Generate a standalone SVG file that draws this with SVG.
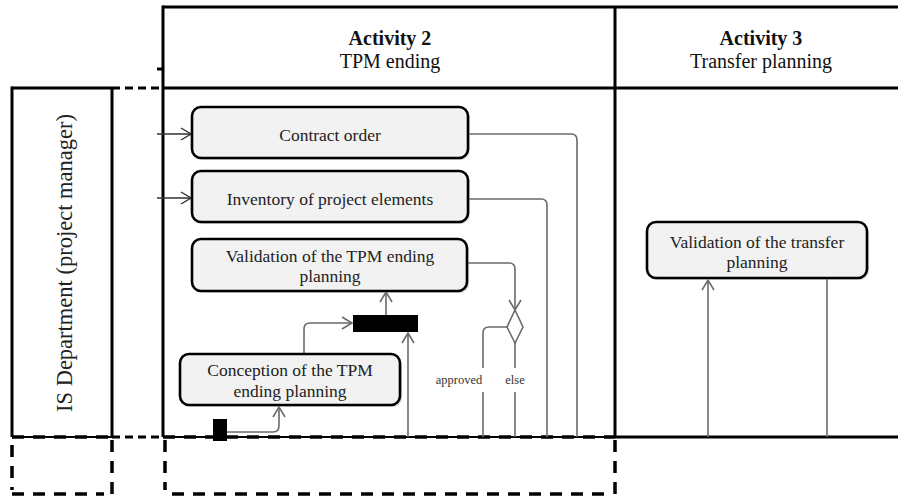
<svg xmlns="http://www.w3.org/2000/svg" width="898" height="497" viewBox="0 0 898 497">
<style>
.lane{stroke:#000;stroke-width:3;fill:none}
.dash{stroke:#000;stroke-width:3.5;fill:none;stroke-dasharray:12 9}
.dashs{stroke:#000;stroke-width:3;fill:none;stroke-dasharray:8 5}
.thin{stroke:#000;stroke-width:1.8;fill:none}
.box{fill:#f2f2f2;stroke:#000;stroke-width:2.6}
.shadow{fill:#bbb;opacity:.5}
.bar{fill:#000}
.c{stroke:#6a6a6a;stroke-width:1.6;fill:none}
.cd{stroke:#333;stroke-width:1.4;fill:none}
.t{font-family:"Liberation Serif","Times New Roman",serif;font-size:17.5px;fill:#222;text-anchor:middle}
.h{font-family:"Liberation Serif","Times New Roman",serif;font-size:20px;fill:#111;text-anchor:middle}
.hb{font-weight:bold}
.s{font-family:"Liberation Serif","Times New Roman",serif;font-size:12.5px;fill:#333;text-anchor:middle}
.v{font-family:"Liberation Serif","Times New Roman",serif;font-size:22.5px;fill:#222;text-anchor:middle}
</style>
<defs>
<marker id="arr" markerUnits="userSpaceOnUse" markerWidth="16" markerHeight="16" viewBox="-12 -8 14 16" refX="0" refY="0" orient="auto">
<path d="M-10,-6 L0,0 L-10,6" fill="none" stroke="#6a6a6a" stroke-width="1.6"/>
</marker>
<marker id="arrd" markerUnits="userSpaceOnUse" markerWidth="16" markerHeight="16" viewBox="-12 -8 14 16" refX="0" refY="0" orient="auto">
<path d="M-10,-6 L0,0 L-10,6" fill="none" stroke="#333" stroke-width="1.4"/>
</marker>
</defs>
<rect width="898" height="497" fill="#fff"/>

<g id="swimlanes">
<line class="lane" x1="163" y1="7" x2="898" y2="7"/>
<line class="lane" x1="163" y1="88" x2="898" y2="88"/>
<line class="lane" x1="163" y1="5.5" x2="163" y2="437"/>
<line class="lane" x1="615" y1="7" x2="615" y2="437"/>
<line class="lane" x1="157" y1="69" x2="163" y2="69"/>
<line class="lane" x1="12" y1="88" x2="112" y2="88"/>
<line class="dashs" x1="112" y1="88" x2="163" y2="88"/>
<line class="lane" x1="12" y1="86.5" x2="12" y2="437"/>
<line class="lane" x1="112" y1="88" x2="112" y2="437"/>
<line class="thin" x1="12" y1="437" x2="112" y2="437"/>
<line class="dash" x1="12" y1="437" x2="112" y2="437"/>
<line class="dashs" x1="112" y1="437" x2="163" y2="437"/>
<line class="thin" x1="163" y1="437" x2="615" y2="437"/>
<line class="dash" x1="163" y1="437" x2="615" y2="437"/>
<line class="lane" x1="615" y1="437" x2="898" y2="437"/>
<line class="dash" x1="12" y1="445" x2="12" y2="490"/>
<line class="dash" x1="112" y1="440" x2="112" y2="495"/>
<line class="dash" x1="165" y1="440" x2="165" y2="490"/>
<line class="dash" x1="615" y1="440" x2="615" y2="495"/>
<line class="dash" x1="12" y1="494" x2="104" y2="494"/>
<line class="dash" x1="172" y1="494" x2="612" y2="494"/>
<text class="h hb" x="390" y="45">Activity 2</text>
<text class="h" x="390" y="68">TPM ending</text>
<text class="h hb" x="761" y="45">Activity 3</text>
<text class="h" x="761" y="68">Transfer planning</text>
<text class="v" transform="translate(72,263) rotate(-90)">IS Department (project manager)</text>
</g>

<g id="connectors">
<line class="cd" x1="157" y1="134" x2="191" y2="134" marker-end="url(#arrd)"/>
<line class="cd" x1="157" y1="198" x2="191" y2="198" marker-end="url(#arrd)"/>
<path class="c" d="M468,134 H571 Q577,134 577,140 V437"/>
<path class="c" d="M468,199 H541 Q547,199 547,205 V437"/>
<path class="c" d="M467,263 H509 Q515,263 515,269 V310" marker-end="url(#arr)"/>
<path class="c" d="M507,327 H489 Q483,327 483,333 V368"/>
<path class="c" d="M483,392 V437"/>
<path class="c" d="M515,343 V368"/>
<path class="c" d="M515,392 V437"/>
<path class="c" d="M386,315 V292" marker-end="url(#arr)"/>
<path class="c" d="M408,437 V333" marker-end="url(#arr)"/>
<path class="c" d="M304,354 V329 Q304,323 310,323 H352" marker-end="url(#arr)"/>
<path class="c" d="M227,432 H273 Q279,432 279,426 V407" marker-end="url(#arr)"/>
<path class="c" d="M708,437 V280" marker-end="url(#arr)"/>
<path class="c" d="M827,279 V437"/>
<text class="s" x="459" y="384">approved</text>
<text class="s" x="515" y="384">else</text>
</g>

<g id="contract-order">
<rect class="shadow" x="194" y="109" width="276" height="51" rx="9"/>
<rect class="box" x="192" y="107" width="276" height="51" rx="9"/>
<text class="t" x="330" y="141">Contract order</text>
</g>
<g id="inventory">
<rect class="shadow" x="194" y="173" width="276" height="51" rx="9"/>
<rect class="box" x="192" y="171" width="276" height="51" rx="9"/>
<text class="t" x="330" y="205">Inventory of project elements</text>
</g>
<g id="validation-tpm">
<rect class="shadow" x="194" y="241" width="275" height="52" rx="9"/>
<rect class="box" x="192" y="239" width="275" height="52" rx="9"/>
<text class="t" x="330" y="262">Validation of the TPM ending</text>
<text class="t" x="330" y="282">planning</text>
</g>
<g id="fork">
<rect class="bar" x="353" y="315" width="65" height="17"/>
</g>
<g id="decision">
<polygon points="515,310 523,327 515,343 507,327" fill="#fff" stroke="#6a6a6a" stroke-width="1.6"/>
</g>
<g id="conception">
<rect class="shadow" x="182" y="356" width="220" height="51" rx="9"/>
<rect class="box" x="180" y="354" width="220" height="51" rx="9"/>
<text class="t" x="290" y="376">Conception of the TPM</text>
<text class="t" x="290" y="397">ending planning</text>
</g>
<g id="initial">
<rect class="bar" x="213" y="419" width="14" height="22"/>
</g>
<g id="validation-transfer">
<rect class="shadow" x="649" y="224" width="220" height="56" rx="9"/>
<rect class="box" x="647" y="222" width="220" height="56" rx="9"/>
<text class="t" x="757" y="248">Validation of the transfer</text>
<text class="t" x="757" y="268">planning</text>
</g>
</svg>
